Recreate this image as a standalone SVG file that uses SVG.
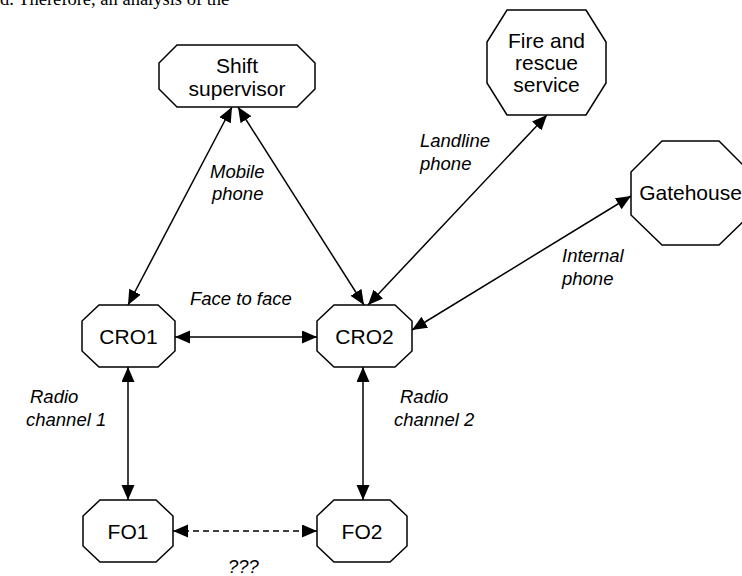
<svg xmlns="http://www.w3.org/2000/svg" width="742" height="576" viewBox="0 0 742 576">
<style>
.box{fill:#fff;stroke:#000;stroke-width:1.5}
.nt{font-family:"Liberation Sans",Arial,sans-serif;font-size:21px;fill:#000;text-anchor:middle}
.lb{font-family:"Liberation Sans",Arial,sans-serif;font-size:18.5px;font-style:italic;fill:#000}
.ln{stroke:#000;stroke-width:1.5;fill:none;marker-start:url(#ah);marker-end:url(#ah)}
.dash{stroke-dasharray:6 4}
</style>
<defs>
<marker id="ah" markerUnits="userSpaceOnUse" markerWidth="16" markerHeight="14" refX="15" refY="6.5" orient="auto-start-reverse">
<path d="M0,0 L15,6.5 L0,13 z" fill="#000"/>
</marker>
</defs>
<rect width="742" height="576" fill="#fff"/>
<text x="0" y="5" font-family="Liberation Serif,Times New Roman,serif" font-size="18.5" fill="#000">d. Therefore, an analysis of the</text>
<g id="connectors">
<line class="ln" x1="232" y1="107" x2="128" y2="305"/>
<line class="ln" x1="238" y1="107" x2="364" y2="305"/>
<line class="ln" x1="547" y1="115" x2="368" y2="305"/>
<line class="ln" x1="631" y1="196" x2="412" y2="330"/>
<line class="ln" x1="175" y1="337" x2="317" y2="337"/>
<line class="ln" x1="128" y1="367" x2="128" y2="500"/>
<line class="ln" x1="363" y1="367" x2="363" y2="500"/>
<line class="ln dash" x1="173" y1="531" x2="317" y2="531"/>
</g>
<g id="labels">
<text class="lb" x="210" y="178">Mobile</text>
<text class="lb" x="212" y="200">phone</text>
<text class="lb" x="420" y="147">Landline</text>
<text class="lb" x="420" y="170">phone</text>
<text class="lb" x="562" y="262">Internal</text>
<text class="lb" x="562" y="285">phone</text>
<text class="lb" x="190" y="305">Face to face</text>
<text class="lb" x="30" y="403">Radio</text>
<text class="lb" x="26" y="426">channel 1</text>
<text class="lb" x="400" y="403">Radio</text>
<text class="lb" x="394" y="426">channel 2</text>
<text class="lb" x="228" y="573">???</text>
</g>
<g id="shift-supervisor">
<polygon class="box" points="177,45 297,45 315,63 315,89 297,107 177,107 159,89 159,63"/>
<text class="nt" x="237" y="73">Shift</text>
<text class="nt" x="237" y="96">supervisor</text>
</g>
<g id="fire-rescue">
<polygon class="box" points="507,10 586,10 606,42 606,83 586,115 507,115 487,83 487,42"/>
<text class="nt" x="546.5" y="48">Fire and</text>
<text class="nt" x="546.5" y="70">rescue</text>
<text class="nt" x="546.5" y="92">service</text>
</g>
<g id="gatehouse">
<polygon class="box" points="662,141 719,141 750,172 750,215 719,245 662,245 631,215 631,172"/>
<text class="nt" x="690.5" y="200">Gatehouse</text>
</g>
<g id="cro1">
<polygon class="box" points="99,305 158,305 175,321 175,351 158,367 99,367 82,351 82,321"/>
<text class="nt" x="128.5" y="344">CRO1</text>
</g>
<g id="cro2">
<polygon class="box" points="334,305 395,305 412,321 412,351 395,367 334,367 317,351 317,321"/>
<text class="nt" x="364.5" y="344">CRO2</text>
</g>
<g id="fo1">
<polygon class="box" points="100,500 156,500 173,516 173,546 156,562 100,562 83,546 83,516"/>
<text class="nt" x="128" y="539">FO1</text>
</g>
<g id="fo2">
<polygon class="box" points="334,500 390,500 407,516 407,546 390,562 334,562 317,546 317,516"/>
<text class="nt" x="362" y="539">FO2</text>
</g>
</svg>
